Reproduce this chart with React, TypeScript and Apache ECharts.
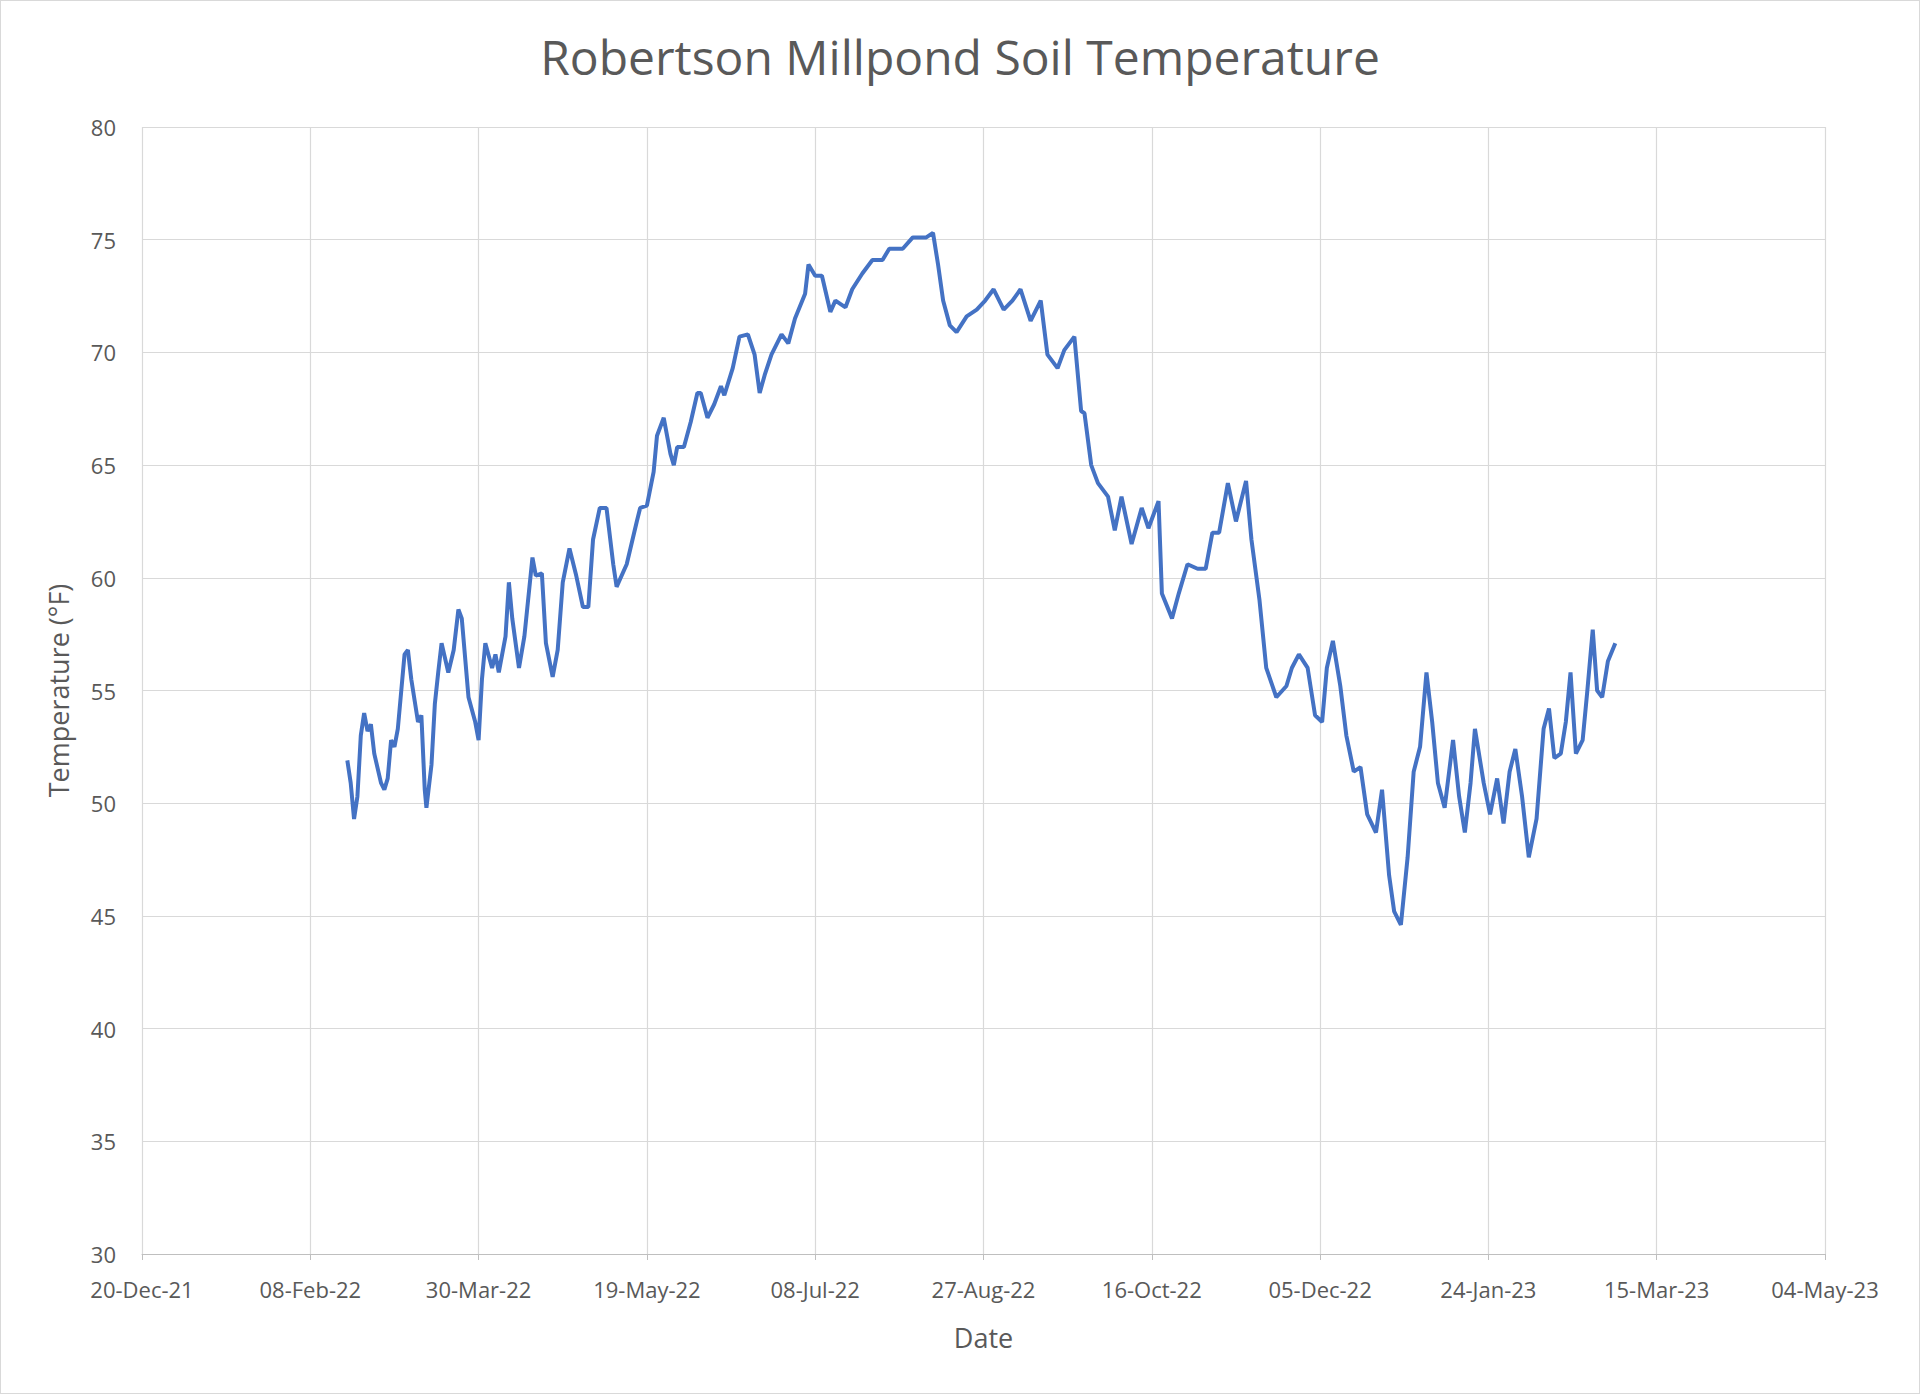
import React, { useEffect, useRef } from 'react';
import * as echarts from 'echarts';

// day offsets from 20-Dec-21 and soil temperature (°F)
const dayOffsets = [
  61, 62, 63, 64, 65, 66, 67, 68, 69, 71, 72, 73, 74, 75, 76, 78, 79, 80, 82, 83, 84, 84.5, 86, 87, 88, 89, 91, 92.6, 94, 95,
  97, 99, 100, 101, 102, 104, 105, 106, 108, 109, 110, 112, 113.6, 116, 117, 118.8, 120, 122, 123.5, 125, 127, 129, 131, 132.6,
  134, 136, 138, 140, 141, 144, 147, 148, 150, 152, 153, 155, 157, 158, 159, 161, 163, 165, 166, 168, 170, 172, 173, 175.5,
  177.5, 180, 182, 183.5, 185, 187, 190, 192, 194, 197, 198, 200, 202, 204.5, 206, 209, 211, 214, 217, 220, 222, 226, 229, 233,
  235, 236.5, 238, 240, 242, 245, 248, 250.5, 253, 256, 258.6, 261, 264, 267, 269, 272, 274, 277, 279, 280, 282, 284, 287, 289,
  291, 294, 297, 299, 302, 303, 306, 308, 310.6, 313.6, 316, 318, 320, 322.6, 325, 328, 329.6, 332, 334, 337, 340, 341.6, 343.7,
  346.3, 348.5, 350.6, 352, 353.8, 356, 357.8, 360, 362, 364, 366.6, 368.4, 370.5, 372, 374, 376, 377.8, 379.7, 381.6, 383.3,
  385, 387, 389.5, 391.3, 393, 394.7, 396, 398.6, 400.5, 402.6, 404.5, 406.3, 408, 410, 412, 414.3, 416.4, 418, 419.6, 421.5,
  423, 424.4, 426, 428, 429.4, 431, 432.3, 433.8, 435.5, 437.7,
];
const temps = [
  51.9, 50.9, 49.3, 50.3, 53.0, 54.0, 53.2, 53.5, 52.2, 50.9, 50.6, 51.1, 52.8, 52.5, 53.3, 56.6, 56.8, 55.5, 53.6, 53.9, 50.6, 49.8, 51.7, 54.4, 55.8, 57.1, 55.8, 56.8, 58.6, 58.2,
  54.7, 53.6, 52.8, 55.5, 57.1, 56.0, 56.6, 55.8, 57.4, 59.8, 58.2, 56.0, 57.4, 60.9, 60.1, 60.2, 57.1, 55.6, 56.8, 59.8, 61.3, 60.1, 58.7, 58.7,
  61.7, 63.1, 63.1, 60.6, 59.6, 60.6, 62.5, 63.1, 63.2, 64.7, 66.3, 67.1, 65.5, 65.0, 65.8, 65.8, 66.9, 68.2, 68.2, 67.1, 67.7, 68.5, 68.1, 69.3,
  70.7, 70.8, 69.9, 68.2, 69.0, 69.9, 70.8, 70.4, 71.5, 72.6, 73.9, 73.4, 73.4, 71.8, 72.3, 72.0, 72.8, 73.5, 74.1, 74.1, 74.6, 74.6, 75.1, 75.1,
  75.3, 73.9, 72.3, 71.2, 70.9, 71.6, 71.9, 72.3, 72.8, 71.9, 72.3, 72.8, 71.4, 72.3, 69.9, 69.3, 70.1, 70.7, 67.4, 67.3, 65.0, 64.2, 63.6, 62.1,
  63.6, 61.5, 63.1, 62.2, 63.4, 59.3, 58.2, 59.3, 60.6, 60.4, 60.4, 62.0, 62.0, 64.2, 62.5, 64.3, 61.7, 59.0, 56.0, 54.7, 55.2, 56.0, 56.6,
  56.0, 53.9, 53.6, 56.0, 57.2, 55.2, 53.0, 51.4, 51.6, 49.5, 48.7, 50.6, 46.8, 45.2, 44.6, 47.6, 51.4, 52.5, 55.8, 53.6,
  50.9, 49.8, 52.8, 50.3, 48.7, 50.9, 53.3, 50.9, 49.5, 51.1, 49.1, 51.4, 52.4, 50.3, 47.6, 49.3, 53.3, 54.2, 52.0, 52.2,
  53.6, 55.8, 52.2, 52.8, 55.0, 57.7, 55.0, 54.7, 56.3, 57.1,
];

const baseDate = Date.UTC(2021, 11, 20);
const months = ['Jan', 'Feb', 'Mar', 'Apr', 'May', 'Jun', 'Jul', 'Aug', 'Sep', 'Oct', 'Nov', 'Dec'];
const fmtDay = (d: number) => {
  const t = new Date(baseDate + d * 86400000);
  const dd = String(t.getUTCDate()).padStart(2, '0');
  return `${dd}-${months[t.getUTCMonth()]}-${String(t.getUTCFullYear()).slice(2)}`;
};

const font = '"Open Sans", "Noto Sans", sans-serif';

const App: React.FC = () => {
  const chartRef = useRef<HTMLDivElement>(null);

  useEffect(() => {
    document.body.style.margin = '0';
    if (!chartRef.current) return;
    const chart = echarts.init(chartRef.current, undefined, { renderer: 'svg' });
    chart.setOption({
      animation: false,
      title: {
        text: 'Robertson Millpond Soil Temperature',
        left: 'center',
        top: 26,
        textStyle: { fontFamily: font, fontSize: 48, fontWeight: 'normal', color: '#595959' },
      },
      grid: { left: 141, right: 94, top: 126, bottom: 139 },
      xAxis: {
        type: 'value',
        min: 0,
        max: 500,
        interval: 50,
        name: 'Date',
        nameLocation: 'middle',
        nameGap: 70,
        nameTextStyle: { fontFamily: font, fontSize: 27, color: '#595959' },
        axisLine: { show: true, lineStyle: { color: '#bfbfbf' } },
        axisTick: { show: true, length: 6, lineStyle: { color: '#bfbfbf' } },
        axisLabel: { fontFamily: font, fontSize: 22, color: '#595959', margin: 24, formatter: (v: number) => fmtDay(v) },
        splitLine: { show: true, lineStyle: { color: '#d9d9d9', width: 1.2 } },
      },
      yAxis: {
        type: 'value',
        min: 30,
        max: 80,
        interval: 5,
        name: 'Temperature (°F)',
        nameLocation: 'middle',
        nameGap: 70,
        nameTextStyle: { fontFamily: font, fontSize: 27, color: '#595959' },
        axisLine: { show: false },
        axisTick: { show: false },
        axisLabel: { fontFamily: font, fontSize: 22, color: '#595959', margin: 26 },
        splitLine: { lineStyle: { color: '#d9d9d9', width: 1.2 } },
      },
      series: [
        {
          type: 'line',
          data: dayOffsets.map((d, i) => [d, temps[i]]),
          showSymbol: false,
          lineStyle: { color: '#4472C4', width: 4 },
        },
      ],
    });
    return () => chart.dispose();
  }, []);

  return (
    <div
      ref={chartRef}
      style={{ width: 1920, height: 1394, boxSizing: 'border-box', border: '1px solid #d9d9d9', background: '#fff' }}
    />
  );
};

export default App;
